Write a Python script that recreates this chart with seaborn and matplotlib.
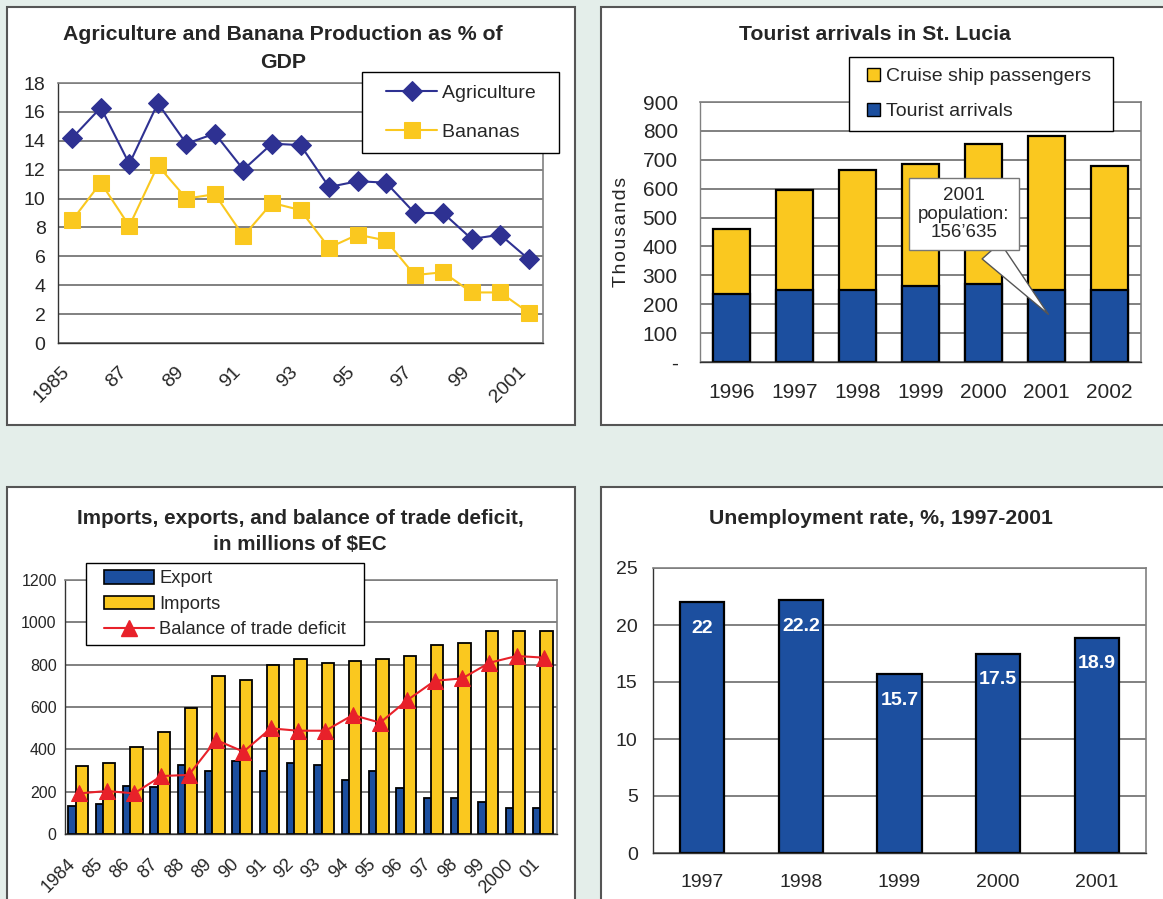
import numpy as np
import pandas as pd
import matplotlib
matplotlib.use("Agg")
import matplotlib.pyplot as plt
import seaborn as sns
from matplotlib.patches import Rectangle, Patch
from matplotlib.lines import Line2D
from matplotlib.legend_handler import HandlerLine2D, HandlerPatch
from matplotlib.transforms import ScaledTranslation

# --- data -------------------------------------------------------------
gdp_labels = ["1985", "", "87", "", "89", "", "91", "", "93", "", "95", "",
              "97", "", "99", "", "2001"]
agriculture = [14.2, 16.3, 12.4, 16.6, 13.8, 14.5, 12.0, 13.8, 13.7, 10.8,
               11.2, 11.1, 9.0, 9.0, 7.2, 7.5, 5.8]
bananas = [8.5, 11.1, 8.1, 12.3, 10.0, 10.3, 7.4, 9.7, 9.2, 6.6,
           7.5, 7.1, 4.7, 4.9, 3.5, 3.5, 2.1]

tour_years = ["1996", "1997", "1998", "1999", "2000", "2001", "2002"]
tourist_arrivals = [236, 250, 250, 262, 270, 250, 250]
cruise_passengers = [224, 345, 415, 423, 485, 532, 430]

trade_labels = ["1984", "85", "86", "87", "88", "89", "90", "91", "92", "93",
                "94", "95", "96", "97", "98", "99", "2000", "01"]
exports = [134, 142, 228, 220, 326, 299, 343, 299, 334, 324,
           255, 299, 219, 168, 168, 150, 124, 124]
imports = [323, 334, 411, 483, 597, 745, 728, 798, 825, 806,
           816, 825, 843, 893, 904, 958, 958, 958]
trade_deficit = [192, 203, 192, 274, 279, 444, 389, 499, 488, 488,
                 562, 526, 633, 724, 735, 809, 841, 833]

unemp_years = ["1997", "1998", "1999", "2000", "2001"]
unemp_rate = [22, 22.2, 15.7, 17.5, 18.9]

# --- style ------------------------------------------------------------
BG = "#e4eeea"
BLUE = "#1c4f9f"
YELLOW = "#fac81f"
NAVY = "#2e3192"
RED = "#e8212a"
GRID = "#808080"

sns.set_theme(style="white")
plt.rcParams["font.family"] = ["Liberation Sans", "DejaVu Sans"]

W, H = 1163, 899
fig = plt.figure(figsize=(W / 100, H / 100), dpi=100, facecolor=BG)


def panel(x0, y0, x1, y1):
    fig.add_artist(Rectangle((x0 / W, 1 - y1 / H), (x1 - x0) / W, (y1 - y0) / H,
                             transform=fig.transFigure, fc="white", ec="#555555",
                             lw=1.5, zorder=-1))


def px_axes(l, t, r, b):
    return fig.add_axes([l / W, 1 - b / H, (r - l) / W, (b - t) / H])


def excel_style(ax, grid=True):
    for s in ["top", "right"]:
        ax.spines[s].set_color(GRID)
        ax.spines[s].set_linewidth(1.2)
    for s in ["left", "bottom"]:
        ax.spines[s].set_color("#333333")
        ax.spines[s].set_linewidth(1.0)
    ax.tick_params(axis="both", which="major", direction="out", length=5,
                   width=1, color="#333333")
    ax.yaxis.grid(grid, color=GRID, lw=1.4)
    ax.xaxis.grid(False)
    ax.set_axisbelow(True)
    ax.set_xlabel("")
    ax.set_ylabel("")


def cat_xaxis(ax, labels, fontsize, rotation=0, pad=8, shift=0):
    n = len(labels)
    ax.set_xlim(-0.5, n - 0.5)
    ax.set_xticks(np.arange(n + 1) - 0.5)
    ax.set_xticklabels([])
    ax.set_xticks(np.arange(n), minor=True)
    if rotation:
        ax.set_xticklabels(labels, minor=True, fontsize=fontsize, rotation=rotation,
                           ha="right", va="center", rotation_mode="anchor")
    else:
        ax.set_xticklabels(labels, minor=True, fontsize=fontsize)
    ax.tick_params(axis="x", which="minor", length=0, pad=pad)
    if shift:
        off = ScaledTranslation(shift / 100, 0, fig.dpi_scale_trans)
        for lab in ax.get_xticklabels(minor=True):
            lab.set_transform(lab.get_transform() + off)


def box_legend(leg):
    leg.get_frame().set_linewidth(1)
    leg.get_frame().set_edgecolor("black")


panel(7, 7, 575, 425)
panel(601, 7, 1175, 425)
panel(7, 487, 575, 910)
panel(601, 487, 1175, 910)

# --- top left: agriculture & bananas ----------------------------------
ax1 = px_axes(58, 83, 543, 343)
gdp = pd.DataFrame({"pos": np.arange(len(agriculture)),
                    "Agriculture": agriculture, "Bananas": bananas})
sns.lineplot(data=gdp, x="pos", y="Agriculture", ax=ax1, color=NAVY, lw=1.5,
             marker="D", markersize=10, markeredgecolor=NAVY, label="Agriculture")
sns.lineplot(data=gdp, x="pos", y="Bananas", ax=ax1, color=YELLOW, lw=1.5,
             marker="s", markersize=12, markeredgecolor=YELLOW, label="Bananas")
excel_style(ax1)
ax1.set_ylim(0, 18)
ax1.set_yticks(np.arange(0, 19, 2))
ax1.tick_params(axis="y", labelsize=14, pad=4)
cat_xaxis(ax1, gdp_labels, 14, rotation=45, pad=19, shift=-5)
h1, l1 = ax1.get_legend_handles_labels()
box_legend(ax1.legend(h1, [s + "  " for s in l1], loc="upper right",
                      bbox_to_anchor=(559 / W, 1 - 72 / H),
                      bbox_transform=fig.transFigure, fontsize=14, frameon=True,
                      fancybox=False, framealpha=1, handlelength=3.2,
                      handler_map={Line2D: HandlerLine2D(xpad=0.62)},
                      labelspacing=1.1, borderpad=0.62, handletextpad=0.3,
                      borderaxespad=0))
fig.text(283 / W, 1 - 48 / H, "Agriculture and Banana Production as % of\nGDP",
         ha="center", va="center", fontsize=15.3, fontweight="bold", linespacing=1.6)

# --- top right: tourist arrivals --------------------------------------
ax2 = px_axes(700, 102, 1141, 362)
totals = [t + c for t, c in zip(tourist_arrivals, cruise_passengers)]
sns.barplot(x=tour_years, y=totals, ax=ax2, color=YELLOW, saturation=1,
            width=0.58, edgecolor="black", linewidth=1.6)
sns.barplot(x=tour_years, y=tourist_arrivals, ax=ax2, color=BLUE, saturation=1,
            width=0.58, edgecolor="black", linewidth=1.6)
excel_style(ax2)
ax2.spines["left"].set_color(GRID)
ax2.set_ylim(0, 900)
ax2.set_yticks(np.arange(0, 901, 100))
ax2.set_yticklabels(["-"] + [str(v) for v in range(100, 901, 100)], fontsize=15)
ax2.tick_params(axis="y", pad=11)
cat_xaxis(ax2, tour_years, 15, pad=15)
ax2.set_ylabel("\u200a".join("Thousands"), fontsize=14, labelpad=9)
box_legend(ax2.legend(handles=[Patch(fc=YELLOW, ec="black", label="Cruise ship passengers  "),
                               Patch(fc=BLUE, ec="black", label="Tourist arrivals  ")],
                      loc="upper left", bbox_to_anchor=(849 / W, 1 - 57 / H),
                      bbox_transform=fig.transFigure, fontsize=14, fancybox=False,
                      framealpha=1, handlelength=1.05, handleheight=0.66,
                      handler_map={Patch: HandlerPatch(xpad=0.4)},
                      labelspacing=0.9, borderpad=0.55, handletextpad=0.3,
                      borderaxespad=0))
ax2.annotate("2001\npopulation:\n156\u2019635", xy=(5.03, 165), xytext=(3.69, 512),
             ha="center", va="center", fontsize=13.5, zorder=5, linespacing=1.1,
             bbox=dict(boxstyle="square,pad=0.5", fc="white", ec="#777777", lw=1),
             arrowprops=dict(arrowstyle="wedge,tail_width=1.3", fc="white",
                             ec="#555555", lw=1, relpos=(0.7, 0), shrinkA=0, shrinkB=0))

# --- bottom left: trade -----------------------------------------------
ax3 = px_axes(65, 580, 557, 834)
pos = np.arange(len(exports))
sns.barplot(x=pos - 0.23, y=exports, ax=ax3, native_scale=True, orient="x",
            color=BLUE, saturation=1, width=0.30, edgecolor="black", linewidth=1.3)
sns.barplot(x=pos + 0.115, y=imports, ax=ax3, native_scale=True, orient="x",
            color=YELLOW, saturation=1, width=0.46, edgecolor="black", linewidth=1.3)
sns.lineplot(x=pos + 0.03, y=trade_deficit, ax=ax3, color=RED, lw=1.5,
             marker="^", markersize=11, markeredgecolor=RED)
excel_style(ax3, grid=False)
ax3.set_ylim(0, 1200)
ax3.set_yticks(np.arange(0, 1201, 200))
ax3.tick_params(axis="y", labelsize=11.5, pad=1)
cat_xaxis(ax3, trade_labels, 13, rotation=45, pad=20, shift=-6)
box_legend(ax3.legend(handles=[Patch(fc=BLUE, ec="black", lw=1.2, label="Export"),
                               Patch(fc=YELLOW, ec="black", lw=1.2, label="Imports"),
                               Line2D([], [], color=RED, lw=1.5, marker="^",
                                      markersize=11, label="Balance of trade deficit  ")],
                      loc="upper left", bbox_to_anchor=(86 / W, 1 - 563 / H),
                      bbox_transform=fig.transFigure, fontsize=13.2, fancybox=False,
                      framealpha=1, handlelength=3.3, handleheight=0.75,
                      handler_map={Patch: HandlerPatch(xpad=0.6),
                                   Line2D: HandlerLine2D(xpad=0.6)},
                      labelspacing=0.45, borderpad=0.4, handletextpad=0.3,
                      borderaxespad=0))
fig.text(300 / W, 1 - 531.5 / H,
         "Imports, exports, and balance of trade deficit,\nin millions of $EC",
         ha="center", va="center", fontsize=14.9, fontweight="bold", linespacing=1.45)

# --- bottom right: unemployment ---------------------------------------
ax4 = px_axes(653, 568, 1146, 853)
sns.barplot(x=unemp_years, y=unemp_rate, ax=ax4, color=BLUE, saturation=1,
            width=0.45, edgecolor="black", linewidth=1.6)
excel_style(ax4)
ax4.set_ylim(0, 25)
ax4.set_yticks(np.arange(0, 26, 5))
ax4.tick_params(axis="y", labelsize=14, pad=6)
cat_xaxis(ax4, unemp_years, 14, pad=15)
for i, v in enumerate(unemp_rate):
    ax4.annotate(f"{v:g}", xy=(i, v), xytext=(0, -19), textcoords="offset points",
                 ha="center", va="center", color="white", fontsize=14,
                 fontweight="bold")
fig.text(881 / W, 1 - 519 / H, "Unemployment rate, %, 1997-2001", ha="center",
         va="center", fontsize=15.3, fontweight="bold")

fig.text(875 / W, 1 - 35 / H, "Tourist arrivals in St. Lucia", ha="center",
         va="center", fontsize=15.3, fontweight="bold")

fig.savefig("out.png", dpi=100, facecolor=BG)
